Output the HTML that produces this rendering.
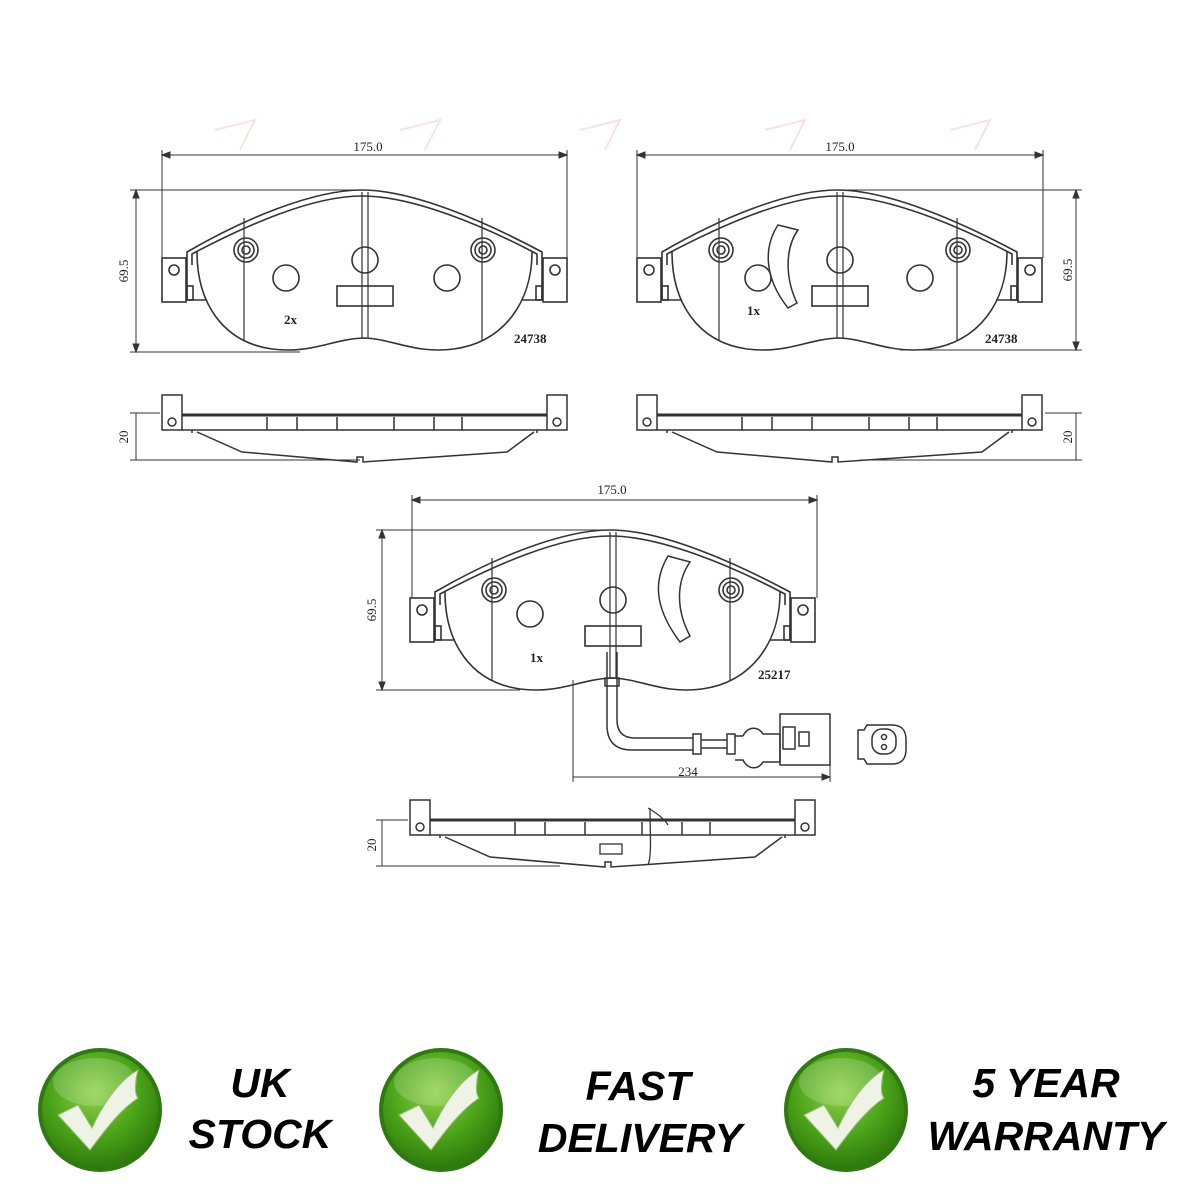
<!DOCTYPE html>
<html><head><meta charset="utf-8"><style>
html,body{margin:0;padding:0;background:#fff;}
svg{display:block;}
.t{font-family:"Liberation Serif",serif;font-size:13px;fill:#222;}
.b{font-family:"Liberation Sans",sans-serif;font-weight:bold;font-style:italic;font-size:41px;fill:#000;text-anchor:middle;}
</style></head><body>
<svg width="1200" height="1200" viewBox="0 0 1200 1200" xmlns="http://www.w3.org/2000/svg">
<defs>
<radialGradient id="g" cx="45%" cy="35%" r="65%">
<stop offset="0" stop-color="#8fd14a"/><stop offset="0.6" stop-color="#4aa318"/><stop offset="1" stop-color="#2f7a0c"/>
</radialGradient>
<g id="pad" fill="none" stroke="#333" stroke-width="1.6">
<path d="M25,82 L25,62 C80,30 150,0 200,0 C250,0 320,30 380,62 L380,82"/>
<path d="M30,75 L30,64 C85,35 150,6 200,6 C250,6 320,35 375,64 L375,75"/>
<path d="M35,62 C35,112 60,152 110,159 C150,164 170,149 202,148 C232,149 252,164 292,159 C342,152 370,112 370,62"/>
<path d="M25,82 L25,110 L45,110 M380,82 L380,110 L360,110"/>
<rect x="0" y="68" width="24" height="44"/><circle cx="12" cy="80" r="5"/>
<rect x="381" y="68" width="24" height="44"/><circle cx="393" cy="80" r="5"/>
<rect x="25" y="96" width="6" height="14"/><rect x="374" y="96" width="6" height="14"/>
<line x1="82" y1="28" x2="82" y2="150" stroke-width="1.2"/><line x1="320" y1="28" x2="320" y2="150" stroke-width="1.2"/>
<line x1="200" y1="2" x2="200" y2="148" stroke-width="1.2"/><line x1="206" y1="2" x2="206" y2="148" stroke-width="1.2"/>
<circle cx="84" cy="60" r="12"/><circle cx="84" cy="60" r="8"/><circle cx="84" cy="60" r="4"/>
<circle cx="321" cy="60" r="12"/><circle cx="321" cy="60" r="8"/><circle cx="321" cy="60" r="4"/>
<circle cx="203" cy="70" r="13"/>
<rect x="175" y="96" width="56" height="20"/>
</g>
<g id="side" fill="none" stroke="#333" stroke-width="1.5">
<rect x="0" y="0" width="20" height="35"/><rect x="385" y="0" width="20" height="35"/>
<line x1="20" y1="20" x2="385" y2="20" stroke-width="3"/>
<line x1="20" y1="35" x2="385" y2="35"/>
<line x1="105" y1="22" x2="105" y2="35"/><line x1="135" y1="22" x2="135" y2="35"/><line x1="175" y1="22" x2="175" y2="35"/><line x1="232" y1="22" x2="232" y2="35"/><line x1="272" y1="22" x2="272" y2="35"/><line x1="300" y1="22" x2="300" y2="35"/>
<path d="M30,38 L30,35 M375,35 L375,38 M35,37 L80,57 L195,67 L195,62 L201,62 L201,67 L345,57 L372,37"/>
<circle cx="10" cy="27" r="4"/><circle cx="395" cy="27" r="4"/>
</g>
<g id="chk">
<circle r="62" fill="#2e7a10"/><circle r="58" fill="url(#g)"/>
<ellipse cx="-5" cy="-28" rx="42" ry="24" fill="#fff" opacity="0.18"/>
<path d="M-42,5 L-22,-5 L-8,18 C5,-10 20,-30 38,-40 C34,-25 35,-15 38,-12 C20,0 5,20 -10,40 Z" fill="#eef3e6" stroke="#9bbf7a" stroke-width="1"/>
</g>
</defs>

<g fill="none" stroke="#f2d0d0" stroke-width="2" opacity="0.6">
<path d="M215,130 L255,120 L240,150 M400,130 L440,120 L425,150 M580,130 L620,120 L605,150 M765,130 L805,120 L790,150 M950,130 L990,120 L975,150"/>
</g>

<!-- Left top pad -->
<use href="#pad" x="162" y="190"/>
<circle cx="286" cy="278" r="13" fill="none" stroke="#333" stroke-width="1.6"/>
<circle cx="447" cy="278" r="13" fill="none" stroke="#333" stroke-width="1.6"/>
<g stroke="#333" stroke-width="1" fill="#333">
<line x1="162" y1="155" x2="567" y2="155"/><line x1="162" y1="150" x2="162" y2="258"/><line x1="567" y1="150" x2="567" y2="258"/>
<path d="M162,155 l8,-3 v6z M567,155 l-8,-3 v6z"/>
<line x1="130" y1="190" x2="362" y2="190"/><line x1="130" y1="352" x2="300" y2="352"/><line x1="136" y1="190" x2="136" y2="352"/>
<path d="M136,190 l-3,8 h6z M136,352 l-3,-8 h6z"/>
</g>
<text class="t" x="368" y="151" text-anchor="middle">175.0</text>
<text class="t" transform="translate(128,271) rotate(-90)" text-anchor="middle">69.5</text>
<text class="t" x="284" y="324" font-weight="bold" font-size="14">2x</text>
<text class="t" x="514" y="343" font-weight="bold" font-size="13">24738</text>
<use href="#side" x="162" y="395"/>
<g stroke="#333" stroke-width="1" fill="#333"><line x1="130" y1="413" x2="160" y2="413"/><line x1="130" y1="460" x2="360" y2="460"/><line x1="136" y1="413" x2="136" y2="460"/></g>
<text class="t" transform="translate(128,437) rotate(-90)" text-anchor="middle">20</text>

<!-- Right top pad -->
<use href="#pad" x="637" y="190"/>
<path d="M778,225 C765,245 762,275 788,308 L797,303 C785,278 785,248 798,230 Z" fill="none" stroke="#333" stroke-width="1.5"/>
<circle cx="758" cy="278" r="13" fill="none" stroke="#333" stroke-width="1.6"/>
<circle cx="920" cy="278" r="13" fill="none" stroke="#333" stroke-width="1.6"/>
<g stroke="#333" stroke-width="1" fill="#333">
<line x1="637" y1="155" x2="1043" y2="155"/><line x1="637" y1="150" x2="637" y2="258"/><line x1="1043" y1="150" x2="1043" y2="258"/>
<path d="M637,155 l8,-3 v6z M1043,155 l-8,-3 v6z"/>
<line x1="840" y1="190" x2="1082" y2="190"/><line x1="900" y1="350" x2="1082" y2="350"/><line x1="1076" y1="190" x2="1076" y2="350"/>
<path d="M1076,190 l-3,8 h6z M1076,350 l-3,-8 h6z"/>
</g>
<text class="t" x="840" y="151" text-anchor="middle">175.0</text>
<text class="t" transform="translate(1072,270) rotate(-90)" text-anchor="middle">69.5</text>
<text class="t" x="747" y="315" font-weight="bold" font-size="14">1x</text>
<text class="t" x="985" y="343" font-weight="bold" font-size="13">24738</text>
<use href="#side" x="637" y="395"/>
<g stroke="#333" stroke-width="1"><line x1="1045" y1="413" x2="1082" y2="413"/><line x1="860" y1="460" x2="1082" y2="460"/><line x1="1076" y1="413" x2="1076" y2="460"/></g>
<text class="t" transform="translate(1072,437) rotate(-90)" text-anchor="middle">20</text>

<!-- Bottom pad -->
<use href="#pad" x="410" y="530"/>
<circle cx="530" cy="614" r="13" fill="none" stroke="#333" stroke-width="1.6"/>
<path d="M668,556 C655,578 652,605 680,642 L690,636 C676,610 676,582 690,562 Z" fill="none" stroke="#333" stroke-width="1.5"/>
<g stroke="#333" stroke-width="1" fill="#333">
<line x1="412" y1="500" x2="817" y2="500"/><line x1="412" y1="495" x2="412" y2="598"/><line x1="817" y1="495" x2="817" y2="598"/>
<path d="M412,500 l8,-3 v6z M817,500 l-8,-3 v6z"/>
<line x1="376" y1="530" x2="610" y2="530"/><line x1="376" y1="690" x2="520" y2="690"/><line x1="382" y1="530" x2="382" y2="690"/>
<path d="M382,530 l-3,8 h6z M382,690 l-3,-8 h6z"/>
<line x1="573" y1="680" x2="573" y2="782"/><line x1="573" y1="777" x2="830" y2="777"/><line x1="830" y1="765" x2="830" y2="782"/>
<path d="M830,777 l-8,-3 v6z"/>
</g>
<text class="t" x="612" y="494" text-anchor="middle">175.0</text>
<text class="t" transform="translate(376,610) rotate(-90)" text-anchor="middle">69.5</text>
<text class="t" x="530" y="662" font-weight="bold" font-size="14">1x</text>
<text class="t" x="758" y="679" font-weight="bold" font-size="13">25217</text>
<text class="t" x="688" y="776" text-anchor="middle" font-size="14">234</text>
<g fill="none" stroke="#333" stroke-width="1.5">
<path d="M607,652 L607,725 Q607,750 632,750 L693,750"/>
<path d="M617,652 L617,720 Q617,738 635,738 L693,738"/>
<rect x="605" y="678" width="14" height="8"/>
<path d="M693,734 h8 v20 h-8z M701,740 h26 M701,748 h26 M727,734 h8 v20 h-8z M735,736 h8 M743,736 c5,-10 15,-10 20,-2 h17 v28 h-17 c-5,8 -15,8 -20,-2 h-8"/>
<rect x="780" y="714" width="50" height="51"/>
<rect x="783" y="727" width="12" height="22"/><rect x="799" y="732" width="10" height="14"/>
<path d="M858,730 h6 l3,-5 h25 c12,0 14,8 14,15 v9 c0,7 -2,15 -14,15 h-25 l-3,-5 h-6 z"/>
<rect x="872" y="729" width="24" height="25" rx="10"/>
<circle cx="884" cy="737" r="2.5"/><circle cx="884" cy="747" r="2.5"/>
</g>
<use href="#side" x="410" y="800"/>
<path d="M650,808 C650,835 652,855 648,865 M648,808 C660,815 665,820 668,825" fill="none" stroke="#333" stroke-width="1.3"/>
<rect x="600" y="844" width="22" height="10" fill="#fff" stroke="#333" stroke-width="1.3"/>
<g stroke="#333" stroke-width="1"><line x1="376" y1="820" x2="408" y2="820"/><line x1="376" y1="866" x2="560" y2="866"/><line x1="382" y1="820" x2="382" y2="866"/></g>
<text class="t" transform="translate(376,845) rotate(-90)" text-anchor="middle">20</text>

<use href="#chk" x="100" y="1110"/>
<use href="#chk" x="441" y="1110"/>
<use href="#chk" x="846" y="1110"/>
<text class="b" x="260" y="1097">UK</text>
<text class="b" x="260" y="1148">STOCK</text>
<text class="b" x="638" y="1100">FAST</text>
<text class="b" x="640" y="1152">DELIVERY</text>
<text class="b" x="1046" y="1097">5 YEAR</text>
<text class="b" x="1046" y="1150">WARRANTY</text>
</svg>
</body></html>
